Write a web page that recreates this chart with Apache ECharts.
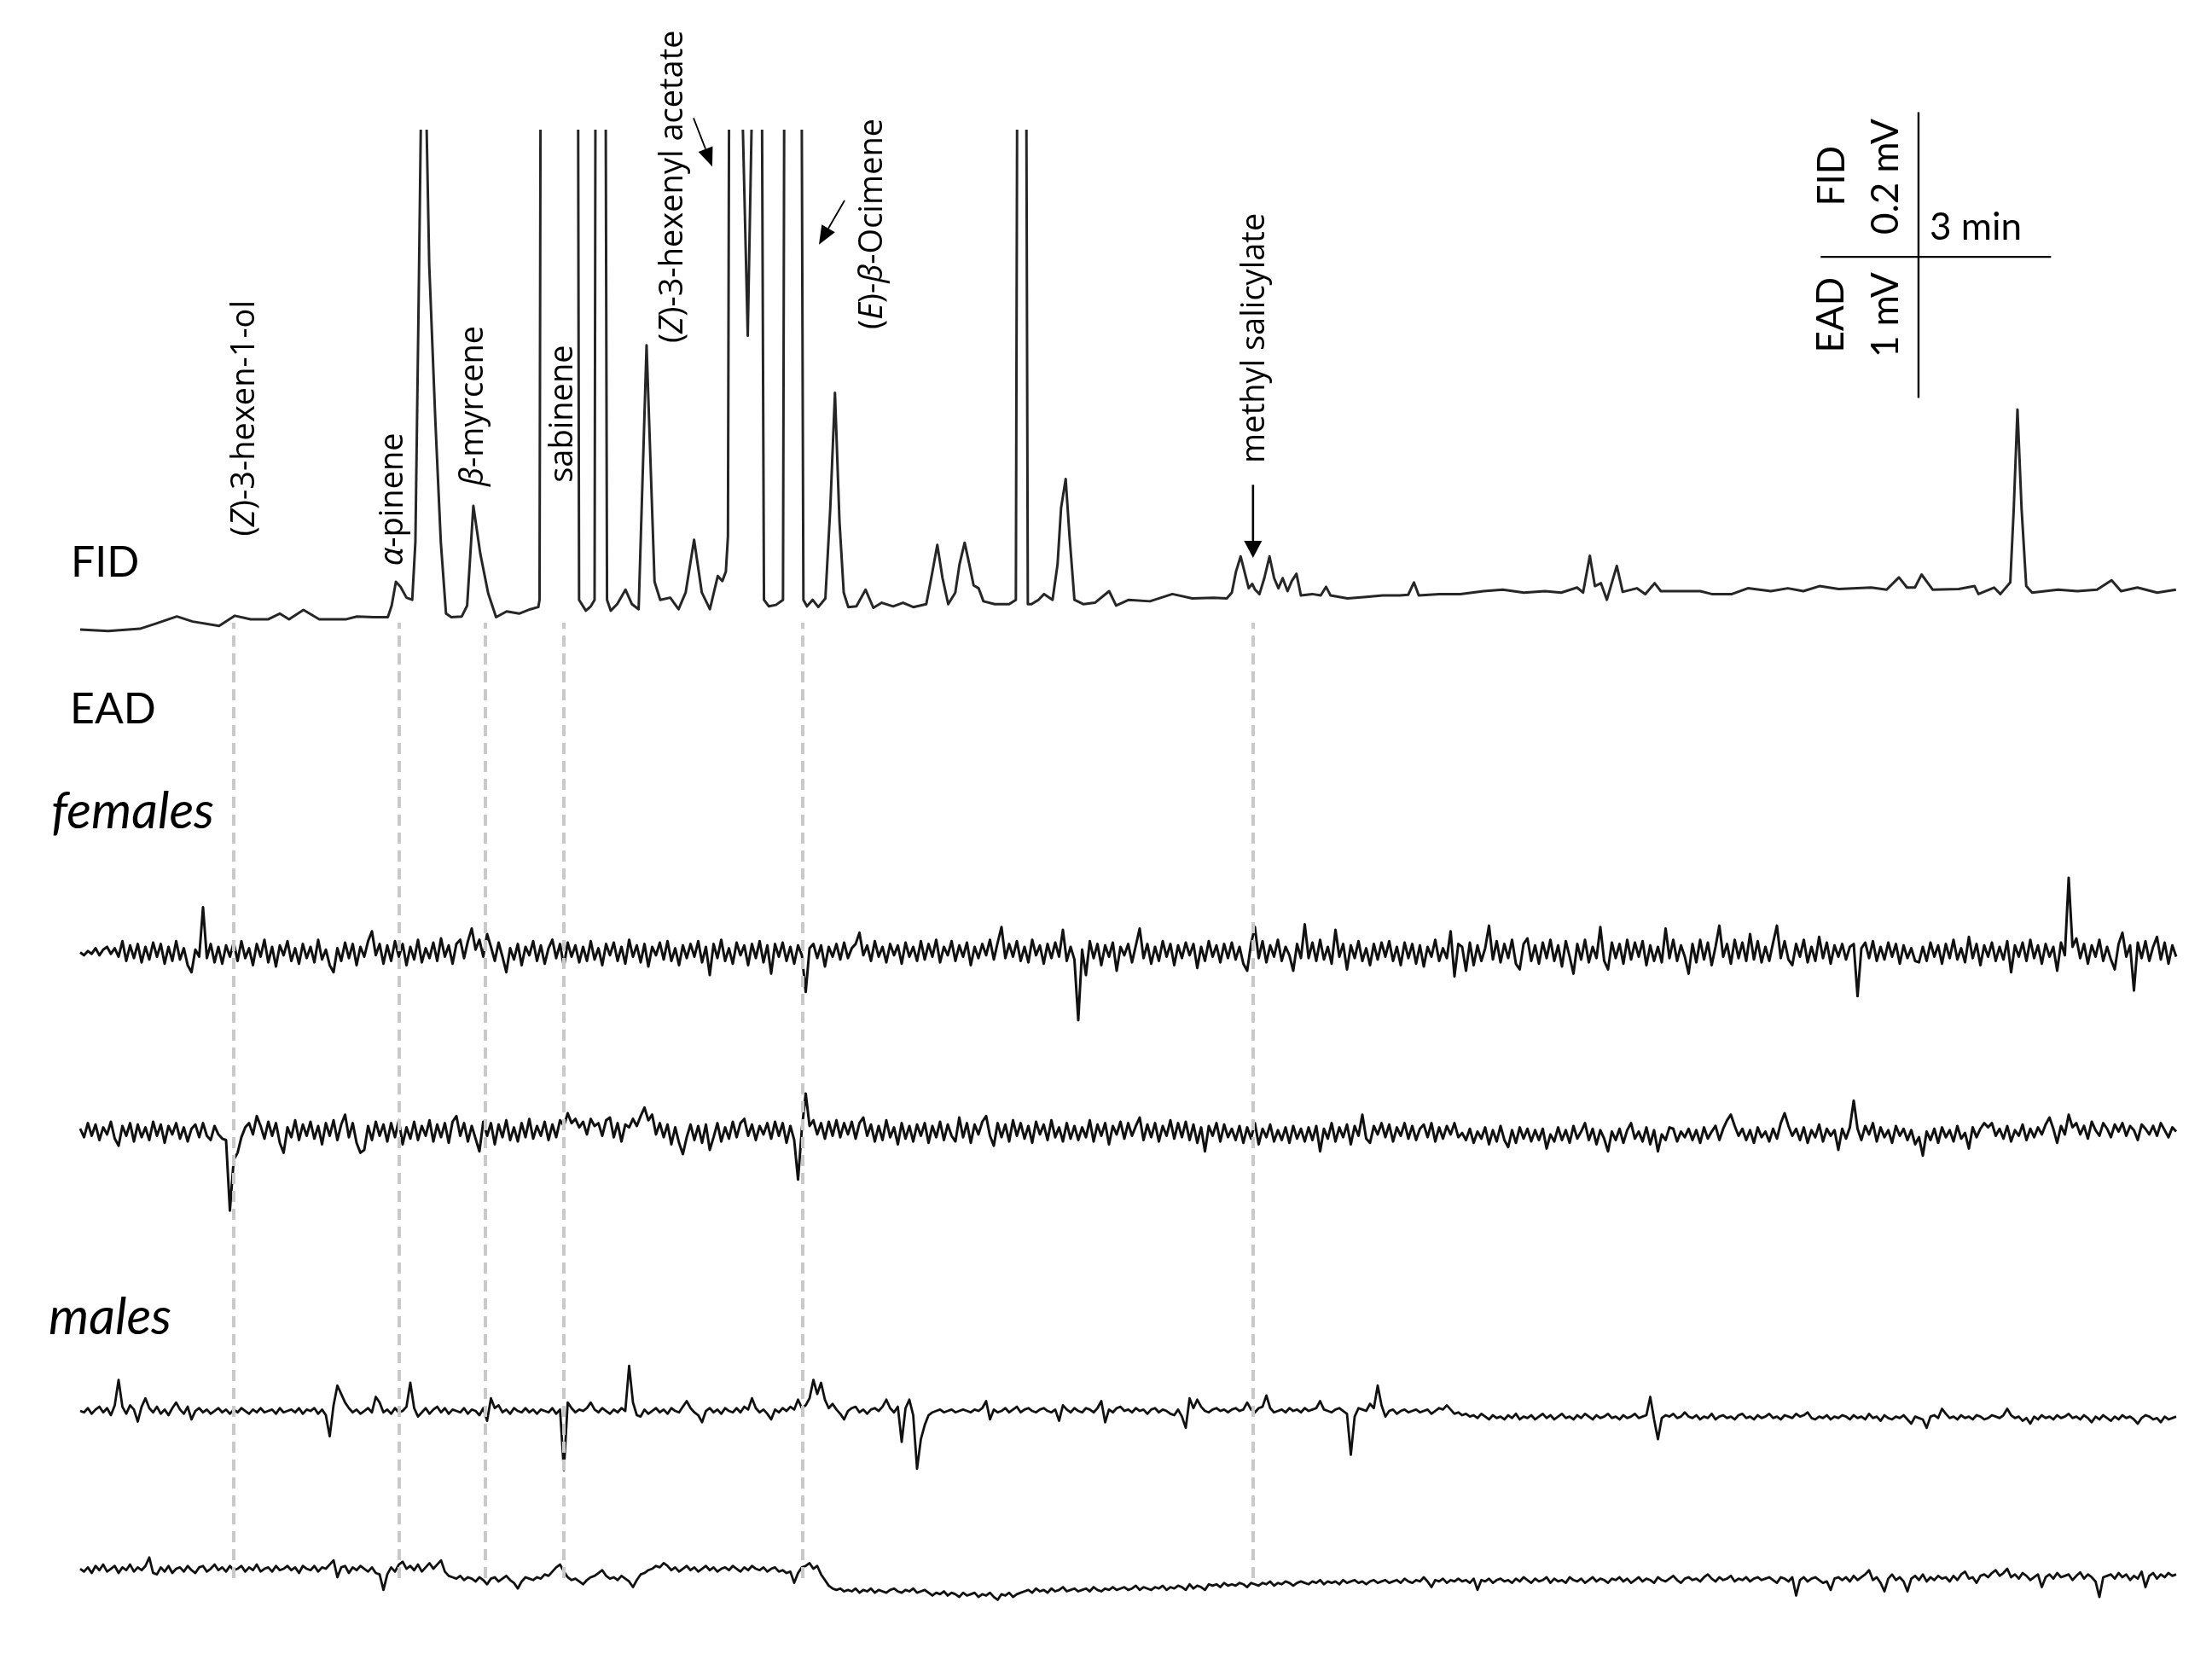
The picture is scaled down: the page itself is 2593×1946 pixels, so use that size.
<!DOCTYPE html>
<html>
<head>
<meta charset="utf-8">
<title>GC-EAD</title>
<script src="https://cdn.jsdelivr.net/npm/echarts@6/dist/echarts.min.js"></script>
<style>
html, body { margin: 0; padding: 0; background: #fff; }
#chart { width: 2593px; height: 1946px; }
</style>
</head>
<body>
<div id="chart"></div>
<script>
// FID trace: [retention time (min), signal (µV)]
var fidTrace = [
[0,-12],[0.364,-14],[0.778,-11],[0.983,-4],[1.259,6],[1.465,-1],[1.809,-7],[2.015,7],[2.221,2],[2.445,2],
[2.599,10],[2.72,2],[2.908,15],[3.114,2],[3.456,2],[3.603,6],[3.823,5],[4.007,5],[4.057,21],[4.112,54],
[4.173,47],[4.25,32],[4.325,29],[4.366,109],[4.408,439],[4.436,677],[4.476,900],[4.513,677],[4.546,493],[4.627,274],
[4.697,109],[4.765,10],[4.834,5],[4.97,6],[5.04,21],[5.121,159],[5.211,93],[5.314,38],[5.417,5],[5.555,13],
[5.717,10],[5.864,16],[5.967,19],[5.983,29],[6.02,2000],[6.462,2000],[6.498,29],[6.586,14],[6.65,20],[6.7,29],
[6.74,2500],[6.80,2500],[6.862,29],[6.911,14],[6.994,23],[7.103,43],[7.187,23],[7.274,16],[7.377,381],[7.481,54],
[7.555,29],[7.685,32],[7.794,16],[7.886,39],[7.996,112],[8.097,39],[8.202,16],[8.305,62],[8.364,55],[8.41,68],
[8.437,117],[8.483,2000],[8.56,1000],[8.695,394],[8.80,1000],[8.851,1500],[8.906,29],[8.97,20],[9.062,22],[9.154,29],
[9.2,2000],[9.356,2000],[9.42,29],[9.466,20],[9.54,29],[9.614,19],[9.706,31],[9.77,156],[9.831,315],[9.89,137],
[9.945,39],[10.004,19],[10.11,20],[10.23,43],[10.331,18],[10.441,25],[10.588,20],[10.717,25],[10.851,19],[11.02,23],
[11.085,59],[11.164,105],[11.232,59],[11.306,23],[11.398,39],[11.453,78],[11.52,108],[11.581,78],[11.637,49],[11.702,45],
[11.765,27],[11.912,23],[12.099,23],[12.187,29],[12.26,3000],[12.343,23],[12.39,23],[12.481,29],[12.555,37],[12.665,29],
[12.73,78],[12.776,156],[12.836,196],[12.886,117],[12.95,29],[13.07,23],[13.217,25],[13.402,41],[13.493,21],[13.658,29],
[13.933,27],[14.226,37],[14.485,31],[14.761,32],[14.934,31],[15.0,39],[15.054,68],[15.115,89],[15.165,68],[15.22,45],
[15.266,51],[15.303,43],[15.36,37],[15.423,59],[15.491,89],[15.551,59],[15.607,45],[15.662,59],[15.726,41],[15.781,55],
[15.842,65],[15.9,35],[16.047,37],[16.158,35],[16.227,47],[16.286,35],[16.507,31],[16.749,33],[16.966,35],[17.187,35],
[17.297,36],[17.372,53],[17.435,35],[17.702,37],[17.977,37],[18.279,41],[18.529,43],[18.805,39],[19.08,41],[19.29,39],
[19.497,46],[19.575,39],[19.663,90],[19.729,48],[19.808,52],[19.885,29],[20.014,76],[20.091,40],[20.275,45],[20.385,37],
[20.507,52],[20.588,41],[20.827,41],[21.102,41],[21.25,37],[21.514,37],[21.722,45],[22.021,41],[22.242,45],[22.444,41],
[22.654,48],[22.904,44],[23.327,46],[23.529,43],[23.689,60],[23.794,46],[23.897,46],[23.984,64],[24.13,43],[24.468,44],
[24.674,48],[24.725,37],[24.928,46],[25.01,37],[25.139,53],[25.185,156],[25.233,292],[25.286,156],[25.347,48],[25.424,39],
[25.76,43],[26.012,41],[26.269,43],[26.459,56],[26.582,41],[26.795,46],[27.053,39],[27.298,43]
];

// EAD recordings (µV, relative to each baseline), one sample every eadStep min
var eadStep = 0.05;
var females1 = [
0,-20,10,-10,30,-20,20,40,-10,30,-30,80,-60,50,-40,60,-70,40,-50,70,
-30,60,-80,40,-60,80,-50,30,-90,-140,20,-30,320,-40,60,-70,40,-80,50,-30,
70,-60,80,-40,30,-90,60,-30,90,-70,40,-100,50,-20,80,-60,30,-80,60,-40,
40,-70,90,-50,20,-90,-140,30,-60,70,-40,60,-90,40,-30,80,150,-20,60,-80,
50,-60,80,-30,60,-90,40,-50,90,-70,30,-40,70,-60,100,-30,50,-80,60,90,
-40,80,170,20,90,-30,130,40,-60,70,-30,-140,30,-50,60,-90,40,-20,80,-60,
50,-80,30,90,-40,60,-100,70,-30,50,-70,40,-60,80,-50,30,-90,60,-20,70,
-60,40,-80,90,-30,50,-70,60,-100,40,-20,70,-50,80,-60,30,-90,50,-40,60,
-30,80,-70,40,-160,60,-40,90,-60,30,-80,70,-20,50,-90,60,-40,80,-70,50,
-150,60,-30,70,-60,40,-80,50,-20,-280,30,60,-40,50,-100,40,-30,60,-50,70,
-40,30,60,140,-20,50,-60,80,-30,40,-70,60,-20,50,-80,70,-30,40,-60,80,
-50,60,-30,90,-70,40,-20,80,-60,50,-30,70,-90,40,-40,60,-20,90,-50,70,
180,-40,60,-30,80,-60,40,-70,90,-20,50,-80,60,-40,70,-30,160,-60,40,-50,
-480,20,-160,80,-40,60,-90,50,-30,70,-130,40,-20,60,-70,50,170,-40,60,-80,
40,-60,80,-30,60,-90,50,-40,70,-20,60,-110,40,-60,80,-30,50,-70,60,-40,
70,-50,40,-80,-130,60,180,-40,80,-70,50,-30,90,-60,40,-20,-130,60,-40,200,
-40,70,-60,90,-50,40,-80,160,-30,60,-120,50,-40,80,-60,30,-90,60,-50,70,
-30,80,-60,40,-90,70,-40,60,-80,50,-100,40,-30,90,-60,30,-40,150,-170,60,
40,-130,70,-90,50,-60,30,190,-50,80,-70,60,-40,90,-80,-120,60,100,-60,50,
-80,70,-40,90,-60,50,-100,80,-30,-150,60,-50,90,-70,40,-40,180,-60,-120,70,
-40,60,-80,90,-50,70,-30,80,-90,50,-60,40,-70,170,-40,90,-60,50,-30,-150,
60,-70,90,-50,70,-90,40,190,-30,60,-80,90,-40,70,-60,130,-50,80,-70,40,
-60,70,190,-40,80,-50,-90,60,-30,90,-70,40,-60,110,-40,70,-80,50,-30,60,
-50,40,60,-310,30,70,-40,80,-60,40,-50,70,-30,60,-80,50,-40,30,-60,-70,
40,-60,70,-30,50,-80,60,-40,90,-50,30,-70,110,-40,60,-90,50,-30,70,-60,
40,-50,80,-140,50,-30,70,-60,90,-40,50,-80,60,-30,40,-130,70,-20,530,40,
100,-40,60,-80,50,-30,90,-60,40,-50,-120,60,140,-30,50,-270,70,-40,80,-60,
40,110,-50,70,-80,50,-30
];
var females2 = [
20,-40,60,-30,50,-60,30,-20,70,-50,-100,40,-30,60,-70,50,-40,30,-60,70,
-30,50,-80,40,-20,60,-50,30,-70,20,50,-40,60,-30,-60,40,-20,-50,-60,-560,
-200,-150,-40,30,60,-20,110,40,-50,70,-30,60,-80,-150,30,-40,80,-60,50,-30,
70,-50,40,-90,60,-30,80,-60,50,120,-40,60,-80,-150,-130,40,-60,70,-30,50,
-70,60,-40,80,-90,30,-50,70,-60,40,-30,80,-70,50,-40,60,-80,70,110,-30,
60,-70,40,-50,-140,70,-30,60,-90,50,-40,80,-60,30,-70,60,-40,90,-50,40,
-30,70,-60,50,-40,80,40,130,60,90,30,70,-20,90,40,60,-30,80,100,-40,
60,-70,50,30,90,40,110,170,80,120,-20,60,-40,50,-90,30,-80,-160,-40,50,
-60,40,-80,50,-130,-40,60,-70,30,-50,70,-40,60,90,-30,50,-60,40,-20,60,
-50,70,-30,60,-80,40,-60,-340,20,270,40,80,-20,60,-50,70,-30,80,-40,60,
-20,70,-50,60,100,-30,50,-70,40,-60,80,-40,30,-90,60,-50,40,-70,50,-30,
60,-80,40,-40,70,-60,50,-30,-70,100,-40,60,-80,50,-20,70,110,-30,-100,60,
-40,50,-70,80,-30,60,-50,40,-80,70,-20,50,-60,80,-40,30,-70,60,-50,40,
-60,30,-40,80,-70,50,-30,60,-90,40,-20,70,-50,60,-30,40,100,-60,50,-40,
60,-70,40,-30,80,-50,60,-40,70,-60,50,-80,30,-140,40,-30,60,-70,50,-40,
20,-60,40,-80,30,-50,60,-90,20,-40,50,-70,10,-60,30,-80,40,-50,20,-70,
30,-60,40,-140,20,-50,60,-70,30,-40,50,-90,40,-30,120,-50,-80,40,-20,60,
-40,50,-70,30,-30,60,-50,40,-60,20,50,-40,60,-70,30,-50,40,-20,60,-40,
-10,-60,20,-80,0,-50,30,-90,10,-70,40,-60,-110,10,-80,30,-50,20,-70,10,
-60,20,-120,-20,-70,30,-60,10,-80,40,-50,0,60,-60,20,-90,10,-50,-140,0,
-60,20,-80,10,60,-50,0,-70,30,-90,10,-140,-20,-60,30,20,-70,0,-40,20,
-60,10,-80,30,-50,0,40,-60,20,80,120,40,-30,20,-60,10,-80,30,-40,0,
-70,20,-50,60,130,40,-30,20,-60,30,-80,10,-40,50,-70,20,-30,10,-130,20,
-50,30,220,20,-60,40,-20,60,-70,30,-40,10,-80,40,-30,20,-60,10,-90,-40,
-170,0,-60,20,-80,30,-40,10,-70,40,-50,-10,-120,30,-40,20,60,30,60,-30,
20,-50,40,-70,10,-30,50,-60,20,-40,30,-20,50,100,20,-80,40,-20,120,30,
60,-20,40,-50,70,10,-30,60,20,-40,50,0,60,-30,40,10,-60,50,20,-20,
40,-30,60,10,-40,30,0
];
var males1 = [
0,-10,20,-20,10,30,-10,20,-30,40,220,30,-20,40,10,-75,30,90,20,-10,
30,-20,10,-30,20,60,10,-20,30,-60,0,20,-10,10,-20,0,20,-10,10,-20,
10,-10,20,0,-20,10,-10,20,-10,0,10,-20,20,-10,0,10,-10,20,-20,10,
0,20,-20,10,-30,-180,40,180,120,60,20,-10,10,-20,0,20,-10,100,60,-10,
10,-20,20,-10,0,30,200,20,-40,-10,20,-20,10,30,-10,20,-20,10,0,-10,
20,-20,10,0,-30,20,-70,90,20,40,-10,10,-20,20,0,-10,20,-10,10,-20,
10,0,-10,20,-20,10,-420,60,20,-10,10,0,20,60,10,-10,20,0,-20,10,
-10,20,0,320,60,-30,-40,10,-20,0,20,-10,10,-20,20,0,-10,30,70,20,
-10,-30,-80,0,20,-10,10,-20,20,0,-10,20,-10,30,10,90,20,-10,10,-20,
-60,10,-10,20,0,30,10,80,20,40,90,220,120,200,80,20,50,10,-20,-60,
0,20,30,-10,10,-20,10,20,0,30,80,20,-10,30,-220,20,80,-30,-410,-200,
-100,-30,-10,0,10,-10,0,10,-10,0,10,0,-10,10,0,20,70,-60,10,-10,
0,20,-10,10,30,-10,10,20,0,-10,10,20,0,-10,10,-70,40,10,-10,20,
0,-10,20,10,-10,20,70,-80,10,-10,20,30,0,10,-10,20,0,10,-20,10,
20,-10,10,0,-20,-30,10,-40,-120,90,20,80,30,0,-10,10,20,0,10,-10,
10,20,0,10,60,10,-10,20,30,110,20,-10,0,10,-10,20,0,10,-10,20,
0,10,20,70,10,0,-10,10,20,0,-20,-310,-40,20,10,0,50,20,180,40,
-40,0,10,-20,0,10,-10,0,10,-10,0,10,-20,0,20,10,40,10,-20,-10,
-30,-20,-40,-30,-50,-20,-40,-60,-30,-50,-40,-60,-30,-50,-20,-60,-40,-50,-30,-60,
-40,-20,-50,-30,-60,-40,-20,-50,-40,-60,-30,-50,-20,-40,-60,-30,-50,-40,-20,-50,
-40,-60,-30,-50,-40,-20,-50,-40,-30,100,-60,-200,-50,-30,-40,-20,-50,-40,-10,-40,
-50,-30,-60,-40,-50,-20,-60,-40,-30,-50,-40,-60,-30,-20,-50,-40,-60,-30,-50,-40,
-20,-50,-40,-60,-30,-40,-50,-20,-40,-30,-10,-50,-60,-40,-50,-30,-60,-40,-50,-30,
-40,-60,-30,-50,-40,-60,-20,-50,-40,-70,-30,-50,-60,-40,-50,-30,-60,-90,-40,-50,
-60,-120,-40,-30,-50,15,-20,-50,-40,-60,-30,-50,-40,-60,-30,-40,-60,-50,-30,-40,
-50,-30,15,-30,-50,-40,-70,-50,-90,-40,-60,-30,-50,-40,-60,-30,-50,-40,-20,-50,
-40,-60,-30,-50,-80,-40,-60,-30,-50,-70,-40,-60,-30,-50,-40,-60,-90,-50,-30,-40,
-60,-50,-80,-40,-60,-50,-40
];
var males2 = [
0,-20,10,-30,20,-10,30,-20,0,20,-30,10,-10,30,-20,10,-10,20,80,-30,
-40,10,-20,20,-30,0,10,-20,20,-10,-30,10,20,-20,0,30,-10,10,-20,20,
-10,0,20,-20,10,-10,30,-20,0,10,-20,20,-10,0,20,-10,10,-30,20,0,
-10,20,-20,10,0,30,60,-60,10,20,-30,10,-10,20,0,-20,10,-30,-40,-150,
-40,10,-20,30,50,0,20,-10,30,-20,10,40,0,30,60,-20,-50,-60,-70,-50,
-80,-60,-70,-90,-60,-80,-110,-70,-60,-90,-70,-50,-80,-100,-140,-90,-60,-70,-80,-60,
-70,-40,-50,-20,10,30,-20,-60,-80,-70,-90,-110,-80,-60,-50,-30,-10,-50,-70,-60,
-80,-50,-70,-90,-130,-80,-40,-30,-10,0,20,10,40,20,-10,10,-20,0,20,-10,
10,-20,0,20,-10,10,-20,0,10,-10,20,0,-20,10,-10,20,0,-10,10,-20,
0,10,-20,-10,-30,-20,-100,-30,10,20,40,0,20,-40,-80,-120,-140,-150,-140,-160,
-150,-160,-140,-170,-150,-160,-140,-170,-150,-160,-170,-150,-140,-160,-170,-150,-160,-140,-170,-160,
-150,-170,-190,-170,-180,-160,-190,-170,-180,-200,-170,-190,-180,-170,-200,-180,-190,-170,-200,-220,
-180,-190,-170,-200,-180,-170,-160,-150,-170,-140,-160,-150,-170,-140,-160,-150,-130,-160,-150,-140,
-160,-150,-140,-160,-130,-150,-160,-140,-150,-130,-150,-140,-130,-150,-140,-120,-150,-130,-140,-150,
-130,-140,-120,-150,-130,-140,-120,-130,-150,-110,-140,-120,-130,-150,-110,-120,-110,-130,-100,-120,
-110,-120,-100,-110,-130,-100,-110,-120,-100,-110,-90,-120,-100,-110,-90,-100,-120,-100,-90,-100,
-110,-90,-100,-80,-110,-90,-100,-90,-110,-80,-100,-90,-80,-100,-90,-110,-90,-80,-100,-90,
-80,-100,-90,-80,-100,-70,-90,-100,-80,-90,-60,-90,-130,-80,-90,-70,-100,-80,-90,-70,
-90,-80,-100,-70,-150,-80,-90,-70,-100,-80,-70,-90,-80,-100,-70,-90,-60,-80,-100,-70,
-90,-80,-60,-100,-70,-90,-80,-100,-60,-80,-90,-70,-100,-80,-60,-90,-70,-80,-100,-70,
-80,-60,-90,-70,-100,-80,-60,-90,-70,-80,-100,-60,-80,-90,-70,-50,-80,-100,-70,-60,
-80,-70,-90,-60,-40,-70,-90,-60,-80,-70,-50,-90,-70,-80,-60,-90,-70,-60,-80,-70,
-60,-80,-100,-60,-70,-90,-60,-190,-80,-60,-90,-70,-60,-80,-100,-90,-150,-70,-60,-80,
-60,-90,-50,-80,-60,-40,-10,-80,-60,-100,-160,-70,-40,-80,-60,-90,-160,-70,-50,-80,
-40,-90,-60,-80,-50,-70,-60,-90,-50,-80,-40,-20,-70,-60,-100,-50,-40,-60,-30,-10,
-50,-30,0,-60,-40,-70,-30,-50,-80,-60,-40,-130,-60,-40,-70,-30,-60,-50,-40,-80,
-50,-25,-70,-40,-60,-90,-200,-60,-50,-40,-70,-30,-60,-40,-80,-50,-70,-20,-130,-50,
-30,-70,-40,-60,-30,-50,-40
];

// retention times of the compounds that were marked (dashed guides)
var markedTimes = [2.004, 4.154, 5.276, 6.305, 9.411, 15.275];
// compound names, and where each rotated name starts (min, µV on the FID scale)
var compoundNames = ['({i|Z})-3-hexen-1-ol', '{i|α}-pinene', '{i|β}-myrcene', 'sabinene',
                     '({i|Z})-3-hexenyl acetate', '({i|E})-{i|β}-Ocimene', 'methyl salicylate'];
var compoundTimes = [2.151, 4.077, 5.121, 6.29, 7.72, 10.32, 15.30];
var compoundLevels = [117, 76, 186, 191, 384, 403, 218];

// scale bar: 3 min, FID 0.2 mV, EAD 1 mV
var scaleMinutes = 3;
var scaleFid = 200;   // µV
var scaleEad = 1000;  // µV

var TMAX = 27.3;
var GRID_LEFT = 94, GRID_W = 2457;
var BLACK = '#111';

function eadPoints(arr) {
	return arr.map(function (v, i) {
		return [Math.round(i * eadStep * 1000) / 1000, v];
	});
}

// grid boxes: FID, 4 EAD traces, overlay for dashed guides
var gridBoxes = [
	{ top: 153.6, height: 608.1 },
	{ top: 1017.3, height: 198.5 },
	{ top: 1227.3, height: 198.5 },
	{ top: 1554.8, height: 198.5 },
	{ top: 1739.8, height: 198.5 },
	{ top: 730, height: 1120 }
];
var yRanges = [[-40, 677], [-600, 600], [-600, 600], [-600, 600], [-600, 600], [0, 1]];

var grids = [], xAxes = [], yAxes = [];
gridBoxes.forEach(function (b, i) {
	grids.push({ left: GRID_LEFT, width: GRID_W, top: b.top, height: b.height, containLabel: false });
	xAxes.push({ type: 'value', gridIndex: i, min: 0, max: TMAX, show: false });
	yAxes.push({ type: 'value', gridIndex: i, min: yRanges[i][0], max: yRanges[i][1], show: false });
});

function trace(gi, data, color, width) {
	return {
		type: 'line', xAxisIndex: gi, yAxisIndex: gi, data: data,
		symbol: 'none', showSymbol: false, silent: true, clip: true, z: 3,
		lineStyle: { color: color, width: width, join: 'round' }
	};
}

var series = [
	trace(0, fidTrace, '#262626', 3),
	trace(1, eadPoints(females1), BLACK, 3),
	trace(2, eadPoints(females2), BLACK, 3),
	trace(3, eadPoints(males1), BLACK, 2.8),
	trace(4, eadPoints(males2), BLACK, 2.8),
	{
		type: 'scatter', xAxisIndex: 5, yAxisIndex: 5, symbolSize: 0, silent: true, z: 1,
		data: markedTimes.map(function (t) { return [t, 0]; }),
		markLine: {
			silent: true, symbol: ['none', 'none'], label: { show: false }, animation: false,
			lineStyle: { color: '#c9c9c9', width: 4, type: [13, 8] },
			data: markedTimes.map(function (t) { return { xAxis: t }; })
		}
	}
];

var chart = echarts.init(document.getElementById('chart'), null, { renderer: 'canvas' });
chart.setOption({
	animation: false,
	backgroundColor: '#fff',
	grid: grids, xAxis: xAxes, yAxis: yAxes,
	series: series
});

function px(gi, t, v) {
	return chart.convertToPixel({ gridIndex: gi }, [t, v]);
}

var g = [];
var LAB_FONT = 'Open Sans';
var LAB_SIZE = 38;
var SIDE_FONT = 'Lato';

function rotText(x, y, text, size, family, rich) {
	g.push({
		type: 'text', x: x, y: y, rotation: Math.PI / 2, silent: true,
		style: {
			text: text, fontSize: size, fontFamily: family, fill: '#000',
			align: 'left', verticalAlign: 'middle', textAlign: 'left', textVerticalAlign: 'middle',
			rich: rich
		}
	});
}
function flatText(x, y, text, size, italic, align) {
	g.push({
		type: 'text', x: x, y: y, silent: true,
		style: {
			text: text, fontSize: size, fontFamily: SIDE_FONT, fontStyle: italic ? 'italic' : 'normal',
			fill: '#000', align: align || 'left', verticalAlign: 'middle',
			textAlign: align || 'left', textVerticalAlign: 'middle'
		}
	});
}
function arrow(p0, p1, w, headLen, headHalf) {
	var dx = p1[0] - p0[0], dy = p1[1] - p0[1];
	var L = Math.sqrt(dx * dx + dy * dy), ux = dx / L, uy = dy / L;
	var bx = p1[0] - ux * headLen, by = p1[1] - uy * headLen;
	g.push({ type: 'line', silent: true, shape: { x1: p0[0], y1: p0[1], x2: bx, y2: by }, style: { stroke: '#000', lineWidth: w } });
	g.push({ type: 'polygon', silent: true,
		shape: { points: [[p1[0], p1[1]], [bx - uy * headHalf, by + ux * headHalf], [bx + uy * headHalf, by - ux * headHalf]] },
		style: { fill: '#000' } });
}

// compound names
var richLab = { i: { fontStyle: 'italic', fontSize: LAB_SIZE, fontFamily: LAB_FONT, fill: '#000' } };
compoundNames.forEach(function (name, k) {
	var p = px(0, compoundTimes[k], compoundLevels[k]);
	rotText(p[0], p[1], name, LAB_SIZE, LAB_FONT, richLab);
});

// pointer arrows
arrow(px(0, 7.989, 695), px(0, 8.233, 628), 1.8, 22, 9);
arrow(px(0, 9.956, 581), px(0, 9.622, 520), 1.8, 22, 9);
arrow(px(0, 15.276, 188), px(0, 15.276, 87), 2.6, 20, 10.5);

// trace names
flatText(83, 660, 'FID', 50, false);
flatText(82, 832, 'EAD', 50, false);
flatText(60, 952, 'females', 60, true);
flatText(57, 1545, 'males', 60, true);

// scale bar
var cross = px(0, 23.944, 503);
var hLeft = px(0, 22.67, 503)[0];
var hRight = px(0, 22.67 + scaleMinutes, 503)[0];
var vTop = px(0, 23.944, 503 + scaleFid)[1];
var eadLen = px(1, 0, 0)[1] - px(1, 0, scaleEad)[1];
g.push({ type: 'line', silent: true, shape: { x1: cross[0], y1: vTop, x2: cross[0], y2: cross[1] + eadLen }, style: { stroke: '#000', lineWidth: 2.4 } });
g.push({ type: 'line', silent: true, shape: { x1: hLeft, y1: cross[1], x2: hRight, y2: cross[1] }, style: { stroke: '#000', lineWidth: 2.4 } });
var scaleCentre = function (dx, dy, text) {
	g.push({
		type: 'text', x: cross[0] + dx, y: cross[1] + dy, rotation: Math.PI / 2, silent: true,
		style: { text: text, fontSize: 44, fontFamily: SIDE_FONT, fill: '#000',
			align: 'center', verticalAlign: 'middle', textAlign: 'center', textVerticalAlign: 'middle' }
	});
};
scaleCentre(-101, -95, 'FID');
scaleCentre(-38, -94, '0.2 mV');
scaleCentre(-102, 68, 'EAD');
scaleCentre(-38, 68, '1 mV');
flatText(cross[0] + 13, cross[1] - 34, '3 min', 44, false);

chart.setOption({ graphic: g });
</script>
</body>
</html>
